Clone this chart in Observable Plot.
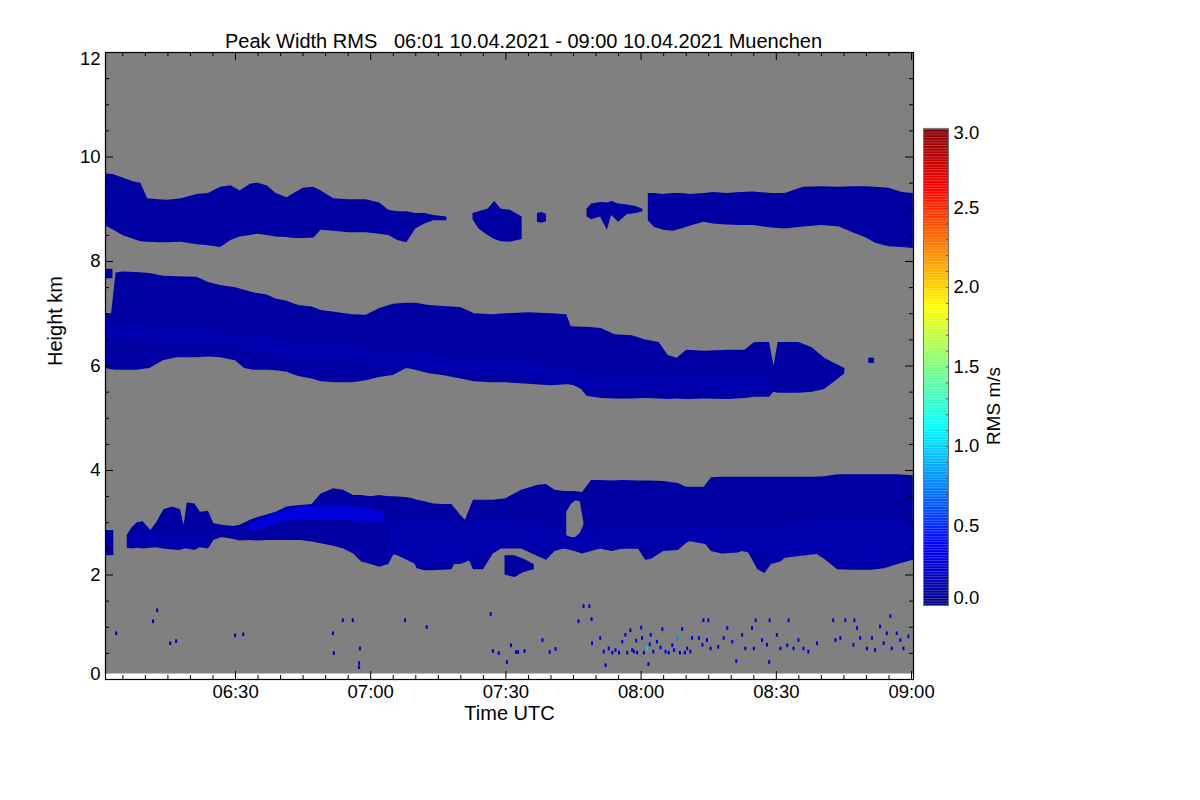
<!DOCTYPE html>
<html><head><meta charset="utf-8">
<script src="https://cdn.jsdelivr.net/npm/d3@7"></script>
<script src="https://cdn.jsdelivr.net/npm/@observablehq/plot@0.6"></script>
<style>
body{margin:0;background:#fff;}
#wrap{position:relative;width:1200px;height:800px;overflow:hidden;}
#main{position:absolute;left:0;top:0;}
#cbar{position:absolute;left:900px;top:118px;}
</style></head>
<body><div id="wrap"><div id="main"></div><div id="cbar"></div></div>
<script>
// ---------- data (time in minutes after 06:00 UTC, height in km, RMS in m/s) ----------
const titleText = "Peak Width RMS\u00a0\u00a0\u00a006:01 10.04.2021 - 09:00 10.04.2021 Muenchen";
const xMajorTicks = [30, 60, 90, 120, 150, 180];
const yMajorTicks = [0, 2, 4, 6, 8, 10, 12];
const cbTicks = [0, 0.5, 1, 1.5, 2, 2.5, 3];
const layerRMS = [0.1, 0.1, 0.1];        // upper, middle, lower cloud layer base RMS
const coreRMS = [0.14, 0.27, 0.14];      // middle core, lower bright core, lower medium band

// upper cloud layer [t, top, bottom]; null = gap
const upperLayer = [
 [1.2,9.68,8.68],[3,9.66,8.6],[5,9.6,8.5],[7.5,9.52,8.42],[9,9.5,8.38],[10.5,9.2,8.37],[13,9.18,8.36],
 [15,9.17,8.36],[18,9.2,8.37],[21.5,9.28,8.32],[24,9.3,8.3],[26.7,9.42,8.27],[29,9.45,8.4],[31,9.35,8.47],
 [33.3,9.48,8.5],[35,9.5,8.52],[37,9.45,8.5],[39,9.3,8.47],[41.4,9.22,8.46],[43,9.3,8.44],[45,9.4,8.44],
 [47.4,9.42,8.45],[49,9.35,8.6],[51.8,9.2,8.58],[55,9.18,8.55],[59,9.18,8.55],[62,9.12,8.52],[64,8.98,8.5],
 [66,8.95,8.4],[68,8.95,8.36],[70,8.92,8.62],[72,8.92,8.72],[74,8.88,8.78],[76.9,8.85,8.78],
 [79,null,null],
 [82.7,8.92,8.8],[84,8.95,8.62],[86,9.0,8.5],[87.5,9.15,8.42],[89,9.0,8.38],[91,8.98,8.37],[93.6,8.85,8.42],
 [95,null,null],
 [97,8.92,8.75],[98,8.94,8.73],[99,8.9,8.76],
 [103,null,null],
 [108,9.0,8.85],[109,9.1,8.8],[111,9.13,8.85],[112.5,9.12,8.6],[113.5,9.15,8.88],[115,9.1,8.75],
 [117,9.08,8.9],[119,9.05,8.92],[120.4,9.0,8.95],
 [121,null,null],
 [121.6,9.3,8.78],[123,9.3,8.65],[125,9.28,8.6],[127,9.3,8.58],[129,9.3,8.62],[131,9.28,8.68],[134,9.3,8.75],
 [136,9.32,8.72],[139,9.3,8.7],[142,9.32,8.69],[145,9.33,8.69],[149,9.3,8.64],[152,9.3,8.62],[156,9.42,8.66],
 [160,9.43,8.69],[164,9.42,8.66],[167,9.43,8.55],[170,9.43,8.45],[172,9.42,8.35],[175,9.4,8.28],
 [178,9.32,8.27],[180.4,9.3,8.25]
];

// middle cloud layer [t, top, bottom]
const middleLayer = [
 [1.15,7.0,5.95],[2.5,7.0,5.93],[3.5,7.78,5.92],[5,7.8,5.92],[8,7.79,5.92],[11,7.77,5.95],[14,7.72,6.1],
 [17,7.71,6.16],[21.5,7.7,6.16],[24,7.6,6.17],[26.7,7.54,6.16],[30,7.5,6.1],[32,7.45,5.95],[34,7.4,5.92],
 [37,7.36,5.92],[39,7.28,5.91],[41.4,7.24,5.88],[44,7.16,5.8],[47,7.13,5.75],[49,7.06,5.7],[52,7.03,5.68],
 [56,6.98,5.68],[59,6.97,5.72],[62,7.1,5.78],[65,7.18,5.82],[68,7.2,5.95],[70,7.2,5.92],[73,7.16,5.85],
 [76,7.14,5.82],[80,7.12,5.75],[83,7.0,5.7],[87,6.98,5.68],[90,7.0,5.68],[95,7.02,5.65],[100,7.0,5.62],
 [103.5,6.98,5.64],[104.5,6.75,5.65],[106.8,6.74,5.55],[108,6.74,5.42],[111.2,6.72,5.38],[114.2,6.6,5.37],
 [118,6.58,5.37],[121,6.5,5.38],[124,6.45,5.37],[126,6.2,5.36],[128,6.15,5.37],[130.1,6.3,5.36],
 [134.1,6.28,5.37],[139.3,6.3,5.36],[143,6.3,5.38],[145.2,6.45,5.4],[148.5,6.45,5.4],[149.5,6.0,5.5],
 [150.4,6.45,5.48],[155,6.45,5.48],[158,6.35,5.5],[160.7,6.15,5.55],[163,6.05,5.7],[165.2,5.95,5.85]
];

// lower cloud layer [t, top, bottom]
const lowerLayer = [
 [6.0,2.76,2.51],[7,2.9,2.5],[8.2,3.0,2.51],[9.5,3.02,2.5],[11.2,2.85,2.51],[12.5,3.0,2.52],[14.1,3.25,2.5],
 [16,3.3,2.48],[17.8,3.25,2.47],[18.6,2.95,2.5],[19.3,3.38,2.5],[21,3.36,2.47],[22.2,3.2,2.52],[24,3.22,2.5],
 [25.2,2.98,2.66],[27,2.95,2.72],[29.6,2.93,2.68],[31,2.95,2.65],[33.3,3.05,2.66],[35,3.1,2.65],[37,3.15,2.66],
 [39,3.2,2.66],[41.4,3.3,2.66],[44.4,3.33,2.66],[47,3.35,2.63],[49,3.55,2.6],[51.8,3.65,2.55],[54,3.62,2.5],
 [56.2,3.52,2.4],[58,3.52,2.25],[60,3.5,2.2],[62,3.52,2.15],[64,3.5,2.2],[65.1,3.5,2.38],[67,3.49,2.4],
 [69,3.47,2.38],[70.3,3.43,2.12],[72,3.4,2.08],[74,3.36,2.08],[76,3.35,2.09],[78,3.35,2.1],[79.9,3.15,2.4],
 [81,3.05,2.47],[82.8,3.43,2.1],[85,3.43,2.1],[87.2,3.43,2.4],[89,3.45,2.5],[90,3.46,2.5],[93.5,3.62,2.5],
 [97.2,3.72,2.35],[99,3.73,2.28],[100.9,3.62,2.45],[103,3.6,2.5],[105.3,3.6,2.45],[107,3.58,2.4],
 [109,3.81,2.45],[111,3.81,2.5],[113.5,3.8,2.45],[116,3.81,2.5],[119.4,3.8,2.5],[121,3.8,2.28],
 [122.3,3.8,2.3],[125,3.79,2.45],[128.3,3.75,2.47],[130,3.68,2.6],[131.2,3.68,2.66],[134,3.68,2.62],
 [135.6,3.86,2.45],[138,3.87,2.4],[141.5,3.87,2.42],[143.5,3.87,2.48],[145.9,3.87,2.1],[147.5,3.87,2.03],
 [148.9,3.87,2.2],[151,3.87,2.25],[153.3,3.87,2.42],[156,3.87,2.45],[158,3.87,2.45],[160.7,3.88,2.3],
 [163.6,3.92,2.1],[167,3.92,2.09],[171.1,3.92,2.09],[174,3.92,2.12],[177,3.92,2.2],[180.4,3.9,2.28]
];

// small separate cloud patches [id, t, top, bottom]
const smallPatches = [
 ["a",1.15,7.85,7.67],["a",2.8,7.85,7.67],
 ["b",1.15,2.85,2.37],["b",3.0,2.85,2.37],
 ["c",89.8,2.37,2.0],["c",92,2.37,1.95],["c",94,2.3,2.05],["c",96.3,2.2,2.1],
 ["d",170.5,6.15,6.05],["d",171.8,6.15,6.05]
];

// lighter core of the middle layer [t, top, bottom]
const middleCore = [
 [1.2,6.85,6.5],[5,6.82,6.5],[10,6.78,6.5],[15,6.75,6.48],[20,6.7,6.45],[25,6.65,6.4],[30,6.6,6.35],
 [40,6.5,6.2],[50,6.4,6.1],[60,6.3,6.0],[70,6.25,5.95],[80,6.15,5.85],[90,6.1,5.8],[100,6.0,5.7],
 [110,5.85,5.55],[120,5.8,5.5],[130,5.75,5.48],[140,5.75,5.48],[148,5.75,5.5]
];
// bright core of the lower layer
const lowerCore = [
 [33,2.95,2.82],[36,3.08,2.9],[40,3.22,3.0],[44,3.3,3.05],[48,3.32,3.05],[52,3.32,3.05],[56,3.3,3.04],
 [60,3.26,3.02],[63,3.2,3.0]
];
// medium band of the lower layer
const lowerBand = [
 [6,2.75,2.53],[12,2.78,2.53],[18,2.8,2.52],[24,2.78,2.55],[26,null,null],
 [64,3.0,2.45],[70,3.05,2.2],[80,3.0,2.2],[90,3.0,2.55],[100,2.95,2.5],[110,2.95,2.5],[120,2.9,2.5],
 [130,2.9,2.65],[140,2.95,2.5],[150,2.95,2.3],[160,3.0,2.4],[170,3.0,2.15],[180.4,3.0,2.3]
];
// gap (no signal) inside the lower layer
const lowerHole = [[103.5,3.2,2.75],[104.5,3.35,2.72],[105.5,3.42,2.72],[106.5,3.4,2.8],[107.3,3.0,2.95]];

// near-surface speckles [t, height, RMS]
const speckles = [
 [3.4,0.84,.15],[11.6,1.07,.15],[12.5,1.28,.15],[15.4,0.65,.15],[16.7,0.69,.15],[29.8,0.80,.15],[31.6,0.82,.15],
 [51.5,0.84,.15],[51.7,0.46,.15],[53.7,1.09,.15],[55.9,1.09,.15],[57.5,0.55,.15],[57.3,0.27,.15],[57.3,0.19,.15],
 [67.5,1.09,.15],[72.3,0.96,.15],[86.5,1.21,.15],[87.0,0.50,.2],[88.3,0.46,.2],[90.1,0.29,.2],[91.0,0.61,.2],
 [92.1,0.48,.2],[92.6,0.48,.2],[94.0,0.50,.2],[98.0,0.71,.2],[99.6,0.48,.2],[100.9,0.54,.2],[106,1.07,.2],
 [107.1,1.36,.2],[108.4,1.36,.2],[108.9,1.11,.2],[109,0.65,.3],[110.8,0.75,.3],[112,0.23,.3],[121.5,0.25,.3],
 [141,0.31,.3],[148.3,0.29,.3],[175.2,1.17,.3],
 [111.6,.49,.2],[112.7,.55,.3],[113.5,.47,.2],[114.2,.52,.3],[115.0,.47,.15],[115.7,.68,.3],[116.4,.81,.3],
 [116.8,.47,.15],[117.5,.90,.3],[117.9,.52,.2],[118.3,.49,.2],[118.8,.70,.3],[119.0,.47,.15],[119.9,.95,.3],
 [120.1,.75,.3],[120.5,.47,.2],[121.2,.55,1.0],[121.8,.63,.3],[122.0,.81,.3],[122.6,.49,.2],[123.4,.68,.3],
 [124.2,.57,.3],[124.6,.92,.3],[125.3,.49,.3],[126.0,.47,.2],[126.8,.61,.3],[127.2,.52,.3],[127.9,.75,.8],
 [128.5,.47,.2],[129.0,.92,.3],[129.6,.47,.2],[130.1,.55,.3],[130.8,.49,.2],[131.2,.75,.3],[132.7,.75,.3],
 [133.5,.62,.3],[133.7,1.09,.3],[134.5,.71,.3],[134.8,1.09,.3],[135.3,.55,.3],[137,.58,.3],[138.2,.75,.3],
 [139.0,.94,.3],[140.1,.68,.3],[142.3,.81,.3],[143.0,.55,.3],[144.5,.94,.3],[144.9,.55,.3],[145.3,1.09,.3],
 [146.7,.71,.3],[147.8,.62,.3],[148.4,1.09,.3],[150.0,.81,.3],[150.8,.55,.3],[152.3,.61,.3],[152.6,1.09,.3],
 [153.7,.55,.3],[154.8,.71,.3],[155.9,.55,.3],[157.0,.49,.3],[158.9,.65,.3],[162.5,1.09,.3],[163.0,.71,.3],
 [164.1,.75,.3],[165.2,1.09,.3],[167.0,.62,.3],[167.2,1.09,.3],[167.8,.94,.3],[168.5,.75,.3],[170.0,.55,.3],
 [171.1,.75,.3],[171.8,.52,.3],[172.9,.97,.3],[173.7,.65,.3],[174.4,.84,.3],[175.5,.55,.3],[176.6,.84,.3],
 [177.4,.71,.3],[178.1,.55,.3],[179.2,.78,.3]
];

// ---------- helpers ----------
function jet(t) {
  const c = x => Math.max(0, Math.min(1, x));
  const r = c(1.5 - Math.abs(4 * t - 3)), g = c(1.5 - Math.abs(4 * t - 2)), b = c(1.5 - Math.abs(4 * t - 1));
  return `rgb(${Math.round(r * 255)},${Math.round(g * 255)},${Math.round(b * 255)})`;
}
const rows = (arr, v) => arr.map(([t, top, bot]) => ({t, top, bot, v}));
const fmtTime = m => {
  const tot = 360 + m;
  return String(Math.floor(tot / 60)).padStart(2, "0") + ":" + String(tot % 60).padStart(2, "0");
};
const font = "'Liberation Sans', Arial, Helvetica, sans-serif";
const GRAY = "#808080";
const TICKFS = 18.5, LABELFS = 20;
const xMinor = d3.range(5, 181, 5).filter(d => d % 30 !== 0);
const yMinor = d3.range(0.5, 12, 0.5).filter(d => d % 2 !== 0);
const colorScale = {type: "linear", domain: [0, 3], interpolate: jet};
const band = (data, extra = {}) => Plot.areaY(data, {x: "t", y1: "bot", y2: "top", fill: "v", curve: "linear", ...extra});

const patchRows = smallPatches.map(([id, t, top, bot]) => ({id, t, top, bot, v: layerRMS[0]}));
const holeRows = lowerHole.map(([t, top, bot]) => ({t, top, bot}));
const speckRows = speckles.map(([t, h, v]) => ({t, h, v}));

const main = Plot.plot({
  width: 1200, height: 800,
  marginLeft: 105, marginRight: 287, marginTop: 52, marginBottom: 121,
  x: {domain: [1.15, 180.44], axis: null},
  y: {domain: [0, 12], axis: null},
  color: colorScale,
  style: {fontFamily: font, fontSize: "18px", background: "transparent", color: "black", overflow: "visible"},
  marks: [
    Plot.frame({fill: GRAY, insetBottom: 6}),
    band(rows(upperLayer, layerRMS[0])),
    band(rows(middleLayer, layerRMS[1])),
    band(rows(middleCore, coreRMS[0])),
    band(rows(lowerLayer, layerRMS[2])),
    band(rows(lowerBand, coreRMS[2])),
    band(rows(lowerCore, coreRMS[1])),
    band(patchRows, {z: "id"}),
    Plot.areaY(holeRows, {x: "t", y1: "bot", y2: "top", fill: GRAY, curve: "linear"}),
    Plot.rect(speckRows, {x1: d => d.t, x2: d => d.t + 0.45, y1: d => d.h, y2: d => d.h + 0.07, fill: "v"}),
    // inward ticks
    Plot.tickX(xMinor, {x: d => d, insetTop: 623, stroke: "black"}),
    Plot.tickX(xMajorTicks, {x: d => d, insetTop: 619, stroke: "black"}),
    Plot.tickX(xMinor, {x: d => d, insetBottom: 623, stroke: "black"}),
    Plot.tickX(xMajorTicks, {x: d => d, insetBottom: 619, stroke: "black"}),
    Plot.tickY(yMinor, {y: d => d, insetRight: 804, stroke: "black"}),
    Plot.tickY(yMajorTicks, {y: d => d, insetRight: 800, stroke: "black"}),
    Plot.tickY(yMinor, {y: d => d, insetLeft: 804, stroke: "black"}),
    Plot.tickY(yMajorTicks, {y: d => d, insetLeft: 800, stroke: "black"}),
    Plot.frame({stroke: "black", strokeWidth: 1.2}),
    // tick labels
    Plot.text(xMajorTicks, {x: d => d, text: fmtTime, frameAnchor: "bottom", dy: 18, fontSize: TICKFS}),
    Plot.text(yMajorTicks.filter(d => d > 0 && d < 12), {y: d => d, text: d => String(d), frameAnchor: "left", textAnchor: "end", dx: -5, fontSize: TICKFS}),
    Plot.text(yMajorTicks.filter(d => d === 12), {y: d => d, text: d => String(d), frameAnchor: "left", textAnchor: "end", dx: -5, dy: 7, fontSize: TICKFS}),
    Plot.text(yMajorTicks.filter(d => d === 0), {y: d => d, text: d => String(d), frameAnchor: "left", textAnchor: "end", dx: -5, dy: -5, fontSize: TICKFS}),
    // titles
    Plot.text([titleText], {frameAnchor: "top", dy: -19, dx: 14, fontSize: LABELFS}),
    Plot.text(["Time UTC"], {frameAnchor: "bottom", dy: 40, fontSize: LABELFS}),
    Plot.text(["Height km"], {frameAnchor: "left", dx: -50, rotate: -90, fontSize: LABELFS})
  ]
});
document.getElementById("main").append(main);

// ---------- colour bar ----------
const fmt1 = d3.format(".1f");
const cb = Plot.plot({
  width: 120, height: 497,
  marginLeft: 23, marginRight: 72, marginTop: 10, marginBottom: 10,
  x: {domain: [0, 1], axis: null},
  y: {domain: [0, 3], axis: null},
  color: colorScale,
  style: {fontFamily: font, fontSize: "18px", background: "transparent", color: "black", overflow: "visible"},
  marks: [
    Plot.rect(d3.range(0, 3, 0.01), {x1: 0, x2: 1, y1: d => d, y2: d => d + 0.0105, fill: d => d + 0.005}),
    Plot.tickY(d3.range(0.1, 3, 0.1), {y: d => d, insetLeft: 23, stroke: "#333", strokeWidth: 0.8}),
    Plot.frame({stroke: "#777"}),
    Plot.text(cbTicks.filter(d => d > 0 && d < 3), {y: d => d, text: fmt1, frameAnchor: "right", textAnchor: "start", dx: 5, fontSize: TICKFS}),
    Plot.text(cbTicks.filter(d => d === 3), {y: d => d, text: fmt1, frameAnchor: "right", textAnchor: "start", dx: 5, dy: 5, fontSize: TICKFS}),
    Plot.text(cbTicks.filter(d => d === 0), {y: d => d, text: fmt1, frameAnchor: "right", textAnchor: "start", dx: 5, dy: -7, fontSize: TICKFS}),
    Plot.text(["RMS m/s"], {frameAnchor: "right", dx: 45, rotate: -90, fontSize: 19})
  ]
});
document.getElementById("cbar").append(cb);
</script>
</body></html>
